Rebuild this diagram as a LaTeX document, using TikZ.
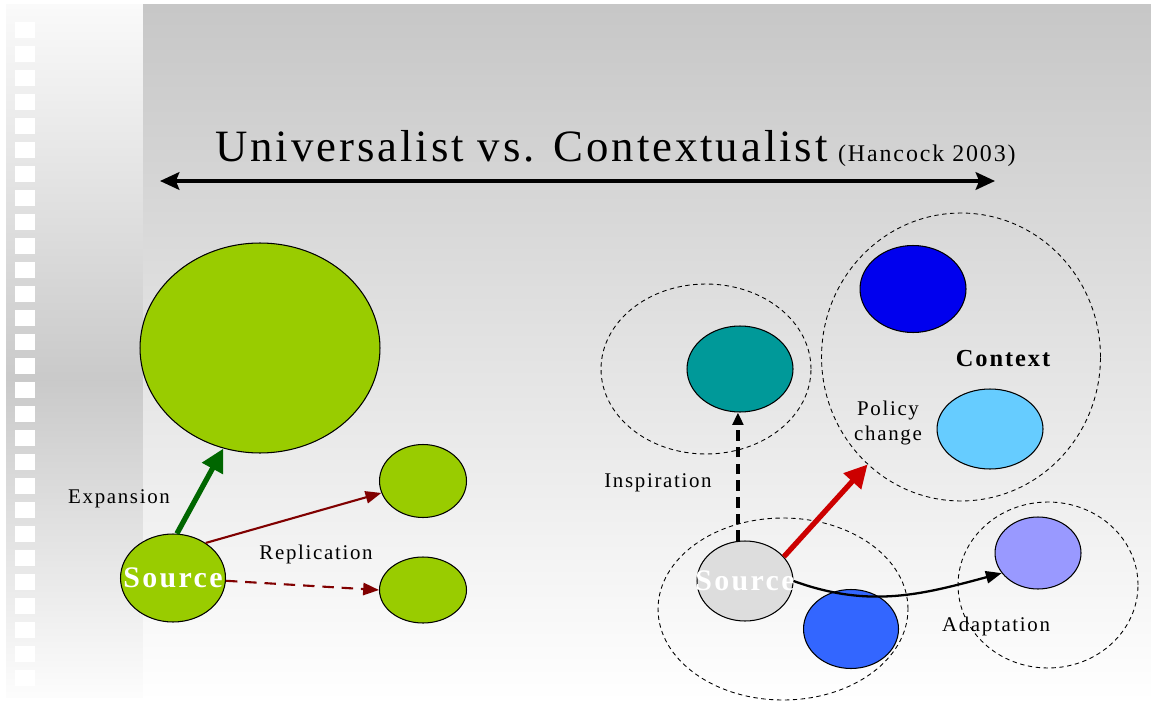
\documentclass[tikz,border=0pt]{standalone}
\usepackage{fontspec}
\setmainfont{Liberation Serif}
\newfontfamily\titlefont[LetterSpace=6.5]{Liberation Serif}
\newfontfamily\notefont[LetterSpace=8]{Liberation Serif}
\usetikzlibrary{shapes.geometric,arrows.meta,positioning}
\definecolor{leaf}{HTML}{99CC00}
\definecolor{pine}{HTML}{006600}
\definecolor{wine}{HTML}{800000}
\definecolor{lagoon}{HTML}{009999}
\definecolor{deepblue}{HTML}{0000EE}
\definecolor{sky}{HTML}{66CCFF}
\definecolor{lilac}{HTML}{9999FF}
\definecolor{cobalt}{HTML}{3366FF}
\definecolor{ash}{HTML}{DDDDDD}
\definecolor{signal}{HTML}{CC0000}
\begin{document}
\begin{tikzpicture}[x=0.02cm,y=-0.02cm,
    blob/.style={ellipse,draw,line width=0.6pt,inner sep=0pt},
    ring/.style={ellipse,draw,line width=0.5pt,dash pattern=on 2.5pt off 2pt,inner sep=0pt},
    note/.style={font=\notefont\fontsize{11.9}{14.2}\selectfont,anchor=base},
    srctext/.style={font=\notefont\bfseries\fontsize{17}{20}\selectfont,text=white,inner sep=0pt}]
    \useasboundingbox (0,0) rectangle (1151,702);
    % backdrop
    \shade[top color=white!98!black,bottom color=white!79!black] (6,5) rectangle (143,380);
    \shade[top color=white!79!black,bottom color=white!99!black] (6,380) rectangle (143,697);
    \foreach \k in {0,...,27}
        \fill[white] (15,22+24*\k) rectangle (35,38+24*\k);
    \shade[top color=white!78!black,bottom color=white] (143,5) rectangle (1151,702);

    % title
    \node[anchor=base west,inner sep=0pt] (title) at (215,162)
        {\titlefont\fontsize{25.5}{30}\selectfont Universalist vs. Contextualist\hspace{6pt}{\fontsize{13.6}{16}\selectfont\addfontfeatures{LetterSpace=8}(Hancock 2003)}};
    \coordinate (spanL) at (160,181);
    \coordinate (spanR) at (995,181);
    \draw[line width=2.1pt,{Stealth[length=11pt,width=10pt,inset=2pt]}-{Stealth[length=11pt,width=10pt,inset=2pt]}] (spanL) -- (spanR);

    % universalist side
    \node[blob,fill=leaf,minimum width=4.8cm,minimum height=4.2cm] (big) at (260,348) {};
    \node[blob,fill=leaf,minimum width=2.1cm,minimum height=1.76cm] (srcL) at (173,578) {};
    \node[blob,fill=leaf,minimum width=1.74cm,minimum height=1.46cm] (copyA) at (423,481) {};
    \node[blob,fill=leaf,minimum width=1.74cm,minimum height=1.32cm] (copyB) at (423,590) {};
    \node[srctext] (srcLtag) at (srcL) {Source};

    \draw[pine,line width=3pt,-{Triangle[length=13pt,width=13pt]}] (srcL.85) -- (big.250);
    \draw[wine,line width=1.2pt,-{Triangle[length=9pt,width=7pt]}] (srcL.47) -- (copyA.196);
    \draw[wine,line width=1.2pt,dash pattern=on 6.5pt off 4.5pt,-{Triangle[length=9pt,width=7pt]}] (srcL.-3) -- (copyB.west);

    \node[note] (expand) at (119,503) {Expansion};
    \node[note] (replicate) at (316,559) {Replication};

    % contextualist side
    \node[ring,minimum width=4.2cm,minimum height=3.4cm] (inspRing) at (706,369) {};
    \node[blob,fill=lagoon,minimum width=2.12cm,minimum height=1.72cm] (inspBlob) at (740,369) {};

    \node[ring,minimum width=5.58cm,minimum height=5.76cm] (ctxRing) at (961,357) {};
    \node[blob,fill=deepblue,minimum width=2.12cm,minimum height=1.74cm] (ctxA) at (913,289) {};
    \node[blob,fill=sky,minimum width=2.12cm,minimum height=1.6cm] (ctxB) at (990,429) {};

    \node[ring,minimum width=5cm,minimum height=3.64cm] (srcRing) at (783,609) {};
    \node[blob,fill=ash,minimum width=1.92cm,minimum height=1.6cm] (srcR) at (745,581) {};
    \node[blob,fill=cobalt,minimum width=1.9cm,minimum height=1.58cm] (srcMate) at (851,629) {};
    \node[srctext] (srcRtag) at (srcR) {Source};

    \node[ring,minimum width=3.6cm,minimum height=3.32cm] (adaptRing) at (1048,585) {};
    \node[blob,fill=lilac,minimum width=1.72cm,minimum height=1.44cm] (adaptBlob) at (1038,553) {};

    \draw[line width=2pt,dash pattern=on 6pt off 3.5pt,-{Triangle[length=7pt,width=6pt]}] (srcR.100) -- (srcR.100 |- inspBlob.south);
    \draw[signal,line width=3pt,-{Triangle[length=13pt,width=13pt]}] (srcR.32) -- (ctxRing.229);
    \draw[line width=1.3pt,-{Triangle[length=9pt,width=7pt]}] (srcR.east) to[out=-20,in=195] (adaptBlob.209);

    \node[note] (inspire) at (658,487) {Inspiration};
    \node[note,font=\notefont\bfseries\fontsize{13.9}{16}\selectfont] (context) at (1003,366) {Context};
    \node[note,anchor=center,align=center] (policy) at (888,423) {Policy\\change};
    \node[note] (adapt) at (996,631) {Adaptation};
\end{tikzpicture}
\end{document}
